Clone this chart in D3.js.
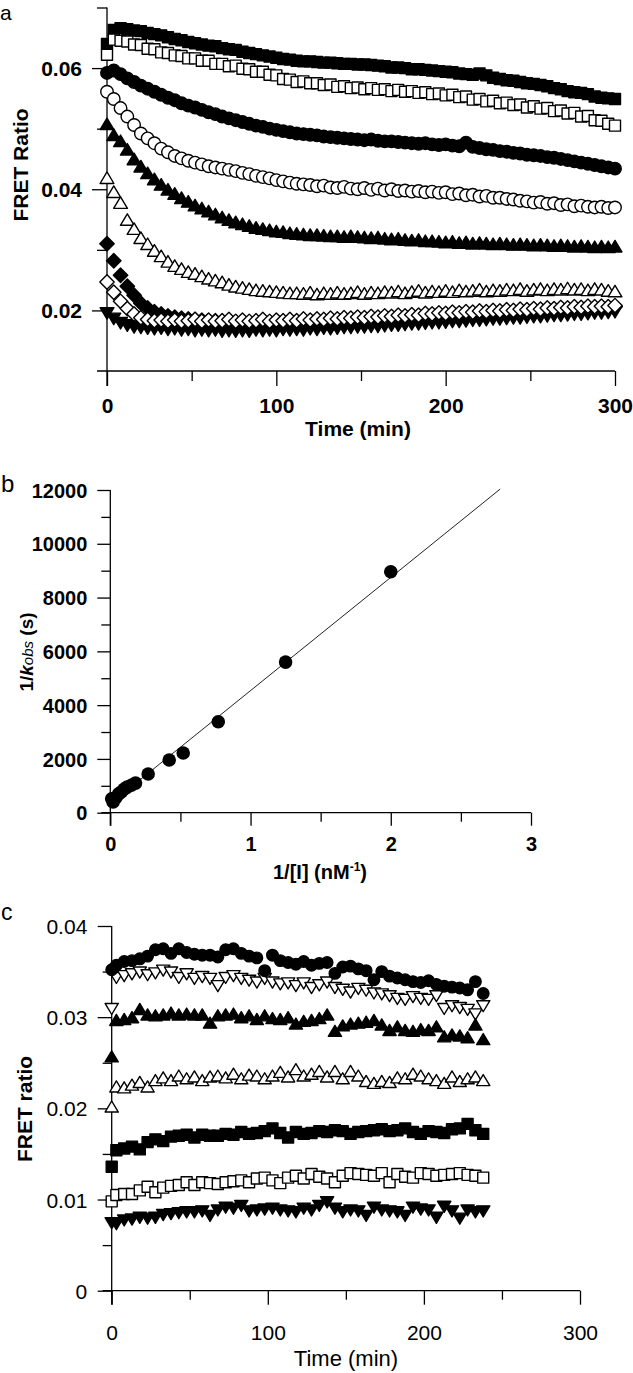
<!DOCTYPE html>
<html><head><meta charset="utf-8">
<script src="https://cdn.jsdelivr.net/npm/d3@7"></script>
<style>body{margin:0;background:#fff}svg{display:block}</style>
</head><body><svg id="chart" width="633" height="1373"></svg>
<script>
// ---------- Panel a data ----------
const aTime = [0,4,8,12,16,20,24,28,32,36,40,44,48,52,56,60,64,68,72,76,80,84,88,92,96,100,104,108,112,116,120,124,128,132,136,140,144,148,152,156,160,164,168,172,176,180,184,188,192,196,200,204,208,212,216,220,224,228,232,236,240,244,248,252,256,260,264,268,272,276,280,284,288,292,296,300];
const aFilledSquare = [.0640,.0663,.0666,.0664,.0662,.0661,.0658,.0656,.0654,.0651,.0648,.0646,.0643,.0641,.0639,.0637,.0636,.0633,.0631,.0630,.0627,.0625,.0623,.0621,.0619,.0617,.0615,.0614,.0612,.0611,.0611,.0610,.0609,.0609,.0608,.0607,.0607,.0606,.0606,.0605,.0604,.0603,.0601,.0601,.0600,.0598,.0598,.0597,.0596,.0595,.0594,.0593,.0591,.0590,.0589,.0591,.0588,.0584,.0582,.0580,.0579,.0577,.0575,.0574,.0572,.0570,.0567,.0565,.0562,.0560,.0559,.0557,.0553,.0551,.0550,.0549];
const aOpenSquare = [.0622,.0647,.0645,.0644,.0639,.0638,.0632,.0631,.0626,.0625,.0621,.0620,.0616,.0616,.0612,.0612,.0607,.0607,.0603,.0604,.0599,.0598,.0594,.0594,.0589,.0588,.0582,.0581,.0577,.0578,.0575,.0575,.0572,.0573,.0569,.0570,.0567,.0568,.0565,.0567,.0564,.0565,.0562,.0564,.0561,.0562,.0559,.0560,.0557,.0558,.0555,.0556,.0552,.0553,.0548,.0549,.0545,.0546,.0542,.0543,.0539,.0540,.0535,.0537,.0533,.0534,.0529,.0530,.0525,.0526,.0520,.0521,.0514,.0513,.0508,.0505];
const aFilledCircle = [.0592,.0596,.0590,.0583,.0577,.0571,.0566,.0561,.0556,.0551,.0547,.0542,.0538,.0535,.0531,.0527,.0524,.0520,.0517,.0514,.0511,.0508,.0505,.0503,.0500,.0498,.0496,.0494,.0492,.0491,.0490,.0489,.0487,.0486,.0485,.0484,.0483,.0482,.0481,.0482,.0480,.0479,.0479,.0478,.0477,.0476,.0475,.0476,.0474,.0473,.0474,.0472,.0471,.0477,.0470,.0468,.0466,.0465,.0463,.0462,.0460,.0459,.0457,.0456,.0455,.0453,.0452,.0450,.0448,.0446,.0444,.0442,.0440,.0438,.0436,.0434];
const aOpenCircle = [.0561,.0549,.0534,.0520,.0506,.0492,.0484,.0476,.0467,.0461,.0455,.0451,.0447,.0444,.0441,.0438,.0436,.0434,.0432,.0430,.0427,.0425,.0422,.0420,.0418,.0415,.0413,.0411,.0409,.0408,.0407,.0405,.0406,.0403,.0402,.0404,.0401,.0400,.0402,.0399,.0401,.0398,.0400,.0397,.0398,.0396,.0397,.0395,.0396,.0394,.0395,.0392,.0393,.0390,.0391,.0388,.0389,.0386,.0386,.0384,.0383,.0381,.0380,.0378,.0379,.0376,.0377,.0374,.0375,.0372,.0373,.0371,.0370,.0371,.0369,.0370];
const aFilledTriangle = [.0508,.0490,.0480,.0466,.0450,.0438,.0427,.0417,.0408,.0400,.0393,.0386,.0380,.0374,.0369,.0364,.0359,.0354,.0350,.0346,.0343,.0340,.0337,.0335,.0333,.0331,.0330,.0328,.0327,.0326,.0325,.0325,.0324,.0323,.0323,.0322,.0323,.0322,.0321,.0320,.0321,.0319,.0318,.0319,.0317,.0316,.0317,.0315,.0315,.0314,.0313,.0314,.0312,.0313,.0311,.0312,.0311,.0310,.0311,.0310,.0309,.0310,.0309,.0308,.0309,.0308,.0307,.0308,.0307,.0306,.0307,.0306,.0305,.0306,.0305,.0306];
const aOpenTriangle = [.0419,.0396,.0378,.0350,.0335,.0320,.0310,.0299,.0290,.0281,.0274,.0269,.0264,.0261,.0257,.0253,.0250,.0247,.0243,.0240,.0238,.0236,.0234,.0233,.0232,.0231,.0230,.0229,.0229,.0228,.0230,.0227,.0229,.0228,.0230,.0228,.0229,.0231,.0228,.0230,.0229,.0231,.0230,.0232,.0229,.0231,.0233,.0230,.0232,.0231,.0233,.0231,.0234,.0232,.0233,.0235,.0232,.0234,.0233,.0235,.0234,.0236,.0233,.0235,.0236,.0234,.0236,.0235,.0237,.0235,.0236,.0234,.0236,.0235,.0233,.0232];
const aFilledDiamond = [.0310,.0282,.0258,.0240,.0225,.0212,.0204,.0198,.0194,.0191,.0189,.0187,.0186,.0185,.0184,.0183,.0183,.0182,.0181,.0181,.0180,.0181,.0180,.0180,.0179,.0180,.0180,.0181,.0181,.0182,.0181,.0182,.0182,.0183,.0183,.0184,.0184,.0185,.0186,.0186,.0187,.0187,.0188,.0189,.0189,.0190,.0190,.0191,.0191,.0192,.0193,.0193,.0194,.0194,.0195,.0196,.0196,.0197,.0197,.0198,.0198,.0199,.0199,.0200,.0200,.0201,.0201,.0202,.0202,.0203,.0203,.0204,.0204,.0205,.0205,.0206];
const aOpenDiamond = [.0247,.0230,.0215,.0203,.0194,.0188,.0185,.0183,.0184,.0182,.0184,.0182,.0183,.0185,.0182,.0184,.0182,.0183,.0185,.0182,.0184,.0182,.0183,.0185,.0182,.0184,.0183,.0185,.0183,.0186,.0184,.0186,.0185,.0187,.0186,.0188,.0187,.0189,.0188,.0190,.0189,.0191,.0190,.0192,.0191,.0193,.0192,.0195,.0194,.0196,.0195,.0197,.0196,.0198,.0197,.0199,.0198,.0200,.0199,.0201,.0200,.0202,.0201,.0203,.0202,.0204,.0203,.0205,.0204,.0206,.0205,.0207,.0206,.0207,.0206,.0208];
const aFilledDownTriangle = [.0195,.0186,.0179,.0175,.0172,.0171,.0170,.0169,.0170,.0168,.0169,.0167,.0168,.0166,.0167,.0166,.0167,.0165,.0166,.0165,.0166,.0165,.0167,.0166,.0167,.0166,.0168,.0167,.0168,.0167,.0169,.0168,.0170,.0169,.0170,.0171,.0171,.0172,.0172,.0173,.0173,.0174,.0175,.0175,.0176,.0177,.0177,.0178,.0179,.0179,.0180,.0181,.0181,.0182,.0183,.0183,.0184,.0185,.0185,.0186,.0187,.0187,.0188,.0189,.0189,.0190,.0191,.0191,.0192,.0193,.0193,.0194,.0195,.0195,.0196,.0197];
const aXTicks = [0,50,100,150,200,250,300];
const aXLabels = [0,100,200,300];
const aYTicks = [0.02,0.03,0.04,0.05,0.06,0.07];
const aYLabels = [0.02,0.04,0.06];

// ---------- Panel b data ----------
const bInvI = [0.01,0.02,0.04,0.06,0.08,0.10,0.12,0.15,0.18,0.27,0.42,0.52,0.77,1.25,2.0];
const bInvK = [520,400,560,700,780,880,950,1020,1100,1440,1960,2220,3380,5600,8960];
const bFitIntercept = 330;
const bFitSlope = 4210;
const bFitRange = [0, 2.78];
const bXTicks = [0,0.5,1,1.5,2,2.5,3];
const bXLabels = [0,1,2,3];
const bYTicks = [0,1000,2000,3000,4000,5000,6000,7000,8000,9000,10000,11000,12000];
const bYLabels = [0,2000,4000,6000,8000,10000,12000];

// ---------- Panel c data ----------
const cTime = [0,3,8,13,18,23,28,33,38,43,48,53,58,63,68,73,78,83,88,93,98,103,108,113,118,123,128,133,138,143,148,153,158,163,168,173,178,183,188,193,198,203,208,213,218,223,228,233,238];
const cFilledCircle = [.0352,.0357,.0361,.0362,.0364,.0367,.0374,.0375,.0370,.0375,.0371,.0369,.0368,.0368,.0366,.0374,.0375,.0370,.0367,.0365,.0351,.0368,.0362,.0360,.0358,.0361,.0357,.0359,.0360,.0348,.0355,.0356,.0353,.0351,.0341,.0350,.0345,.0343,.0341,.0339,.0338,.0340,.0336,.0334,.0333,.0332,.0330,.0339,.0326];
const cOpenDownTriangle = [.0309,.0343,.0345,.0347,.0349,.0346,.0348,.0351,.0349,.0343,.0347,.0342,.0344,.0342,.0334,.0343,.0345,.0342,.0340,.0338,.0342,.0338,.0336,.0337,.0334,.0337,.0332,.0335,.0338,.0332,.0330,.0327,.0331,.0329,.0326,.0325,.0323,.0320,.0319,.0322,.0320,.0319,.0323,.0309,.0312,.0310,.0308,.0303,.0312];
const cFilledTriangle = [.0257,.0297,.0298,.0300,.0309,.0303,.0302,.0303,.0305,.0303,.0304,.0303,.0303,.0294,.0302,.0303,.0304,.0300,.0302,.0298,.0302,.0299,.0298,.0300,.0293,.0296,.0297,.0299,.0303,.0285,.0291,.0293,.0294,.0295,.0297,.0292,.0286,.0290,.0286,.0285,.0287,.0286,.0290,.0279,.0281,.0280,.0278,.0292,.0276];
const cOpenTriangle = [.0202,.0224,.0223,.0226,.0229,.0224,.0231,.0234,.0231,.0236,.0233,.0235,.0231,.0235,.0236,.0234,.0238,.0233,.0237,.0236,.0233,.0236,.0240,.0235,.0243,.0236,.0238,.0241,.0235,.0241,.0233,.0241,.0236,.0230,.0228,.0230,.0229,.0234,.0233,.0238,.0236,.0233,.0231,.0228,.0235,.0230,.0233,.0235,.0231];
const cFilledSquare = [.0136,.0154,.0156,.0158,.0155,.0163,.0166,.0164,.0169,.0170,.0171,.0168,.0171,.0170,.0170,.0172,.0171,.0174,.0172,.0173,.0175,.0178,.0173,.0168,.0174,.0172,.0173,.0175,.0174,.0176,.0175,.0172,.0174,.0175,.0176,.0177,.0175,.0176,.0178,.0174,.0172,.0175,.0174,.0173,.0177,.0178,.0183,.0176,.0172];
const cOpenSquare = [.0098,.0105,.0106,.0106,.0110,.0114,.0108,.0113,.0115,.0116,.0119,.0116,.0119,.0118,.0117,.0119,.0120,.0121,.0119,.0123,.0124,.0121,.0118,.0124,.0126,.0123,.0128,.0125,.0123,.0119,.0126,.0129,.0128,.0127,.0126,.0129,.0119,.0128,.0125,.0124,.0129,.0128,.0126,.0127,.0128,.0129,.0127,.0126,.0124];
const cFilledDownTriangle = [.0074,.0073,.0077,.0078,.0080,.0079,.0080,.0083,.0084,.0085,.0086,.0086,.0087,.0082,.0088,.0091,.0090,.0093,.0087,.0088,.0089,.0090,.0088,.0087,.0086,.0090,.0088,.0093,.0097,.0090,.0086,.0088,.0087,.0082,.0091,.0088,.0087,.0086,.0082,.0091,.0089,.0088,.0080,.0092,.0087,.0079,.0088,.0086,.0087];
const cXTicks = [0,50,100,150,200,250,300];
const cXLabels = [0,100,200,300];
const cYTicks = [0,0.005,0.01,0.015,0.02,0.025,0.03,0.035,0.04];
const cYLabels = [0,0.01,0.02,0.03,0.04];

// ---------- drawing ----------
const FONT = '"Liberation Sans", Arial, Helvetica, sans-serif';
const svg = d3.select("#chart");

function shapePath(shape, s) {
  const h = s / 2;
  if (shape === "square") return `M${-h},${-h}h${s}v${s}h${-s}Z`;
  if (shape === "circle") return d3.symbol(d3.symbolCircle, Math.PI * h * h)();
  if (shape === "diamond") { const d = s * 0.6; return `M0,${-d}L${d},0L0,${d}L${-d},0Z`; }
  const w = s * 1.15, t = s * 0.48;
  if (shape === "up") return `M0,${-t}L${w/2},${t}L${-w/2},${t}Z`;
  if (shape === "down") return `M0,${t}L${w/2},${-t}L${-w/2},${-t}Z`;
}
const has = (arr, d) => arr.some(v => Math.abs(v - d) < 1e-9);

function drawAxes(o) {
  const g = svg.append("g").attr("font-family", FONT);
  const gy = g.append("g").attr("transform", `translate(${o.x.range()[0]},0)`)
    .call(d3.axisLeft(o.y).tickValues(o.yTicks).tickSizeOuter(0)
      .tickFormat(d => has(o.yLabels, d) ? o.yFmt(d) : ""));
  gy.select(".domain").remove();
  gy.selectAll(".tick line").attr("x2", d => has(o.yLabels, d) ? -o.major : -o.minor)
    .attr("stroke", "#000").attr("stroke-width", 1.3);
  gy.selectAll(".tick text").attr("x", o.yLabelOff).attr("dy", "0.36em")
    .attr("font-size", o.fs).attr("font-weight", o.weight).attr("font-family", FONT).attr("fill", "#000");
  const y0 = o.y.range()[0];
  const gx = g.append("g").attr("transform", `translate(0,${y0})`)
    .call(d3.axisBottom(o.x).tickValues(o.xTicks).tickSizeOuter(0)
      .tickFormat(d => has(o.xLabels, d) ? String(d) : ""));
  gx.select(".domain").remove();
  gx.selectAll(".tick line").attr("y2", d => has(o.xLabels, d) ? o.major : o.minor)
    .attr("stroke", "#000").attr("stroke-width", 1.3);
  gx.selectAll(".tick text").attr("y", o.xLabelOff).attr("dy", null)
    .attr("font-size", o.fs).attr("font-weight", o.weight).attr("font-family", FONT).attr("fill", "#000");
  const x0 = o.x.range()[0], x1 = o.x.range()[1];
  g.append("line").attr("x1", x0 - o.minor).attr("x2", x1).attr("y1", y0).attr("y2", y0)
    .attr("stroke", "#000").attr("stroke-width", 1.3);
  g.append("line").attr("x1", x0).attr("x2", x0).attr("y1", o.y.range()[1]).attr("y2", y0 + o.major)
    .attr("stroke", "#000").attr("stroke-width", 1.3);
}

function drawSeries(x, y, times, series) {
  series.forEach(s => {
    svg.append("g").selectAll("path").data(times.map((t, i) => [t, s.values[i]])).join("path")
      .attr("transform", d => `translate(${x(d[0])},${y(d[1])})`)
      .attr("d", shapePath(s.shape, s.size))
      .attr("fill", s.filled ? "#000" : "#fff")
      .attr("stroke", "#000").attr("stroke-width", 1.4).attr("stroke-linejoin", "round");
  });
}

// ===== Panel a =====
const ax = d3.scaleLinear().domain([0, 300]).range([107, 615]);
const ay = d3.scaleLinear().domain([0.01, 0.07]).range([371, 7.5]);
drawAxes({x: ax, y: ay, xTicks: aXTicks, xLabels: aXLabels, yTicks: aYTicks, yLabels: aYLabels,
  yFmt: d3.format(".2f"), major: 15, minor: 10, yLabelOff: -25, xLabelOff: 42, fs: 21, weight: "bold"});
drawSeries(ax, ay, aTime, [
  {values: aFilledDownTriangle, shape: "down", filled: true, size: 12},
  {values: aFilledDiamond, shape: "diamond", filled: true, size: 12},
  {values: aOpenDiamond, shape: "diamond", filled: false, size: 12},
  {values: aOpenTriangle, shape: "up", filled: false, size: 12},
  {values: aFilledTriangle, shape: "up", filled: true, size: 12},
  {values: aOpenCircle, shape: "circle", filled: false, size: 12.5},
  {values: aFilledCircle, shape: "circle", filled: true, size: 12.5},
  {values: aFilledSquare, shape: "square", filled: true, size: 11},
  {values: aOpenSquare, shape: "square", filled: false, size: 11}
]);
svg.append("text").attr("x", 0).attr("y", 20).attr("font-family", FONT).attr("font-size", 21).text("a");
svg.append("text").attr("transform", "translate(28,165) rotate(-90)").attr("text-anchor", "middle")
  .attr("font-family", FONT).attr("font-size", 21).attr("font-weight", "bold").text("FRET Ratio");
svg.append("text").attr("x", 358).attr("y", 436).attr("text-anchor", "middle")
  .attr("font-family", FONT).attr("font-size", 21).attr("font-weight", "bold").text("Time (min)");

// ===== Panel b =====
const bx = d3.scaleLinear().domain([0, 3]).range([110.3, 531]);
const by = d3.scaleLinear().domain([0, 12000]).range([812.7, 490]);
drawAxes({x: bx, y: by, xTicks: bXTicks, xLabels: bXLabels, yTicks: bYTicks, yLabels: bYLabels,
  yFmt: d3.format("d"), major: 13, minor: 9, yLabelOff: -23, xLabelOff: 38.5, fs: 20, weight: "bold"});
svg.append("path")
  .datum(bFitRange.map(v => [v, bFitIntercept + bFitSlope * v]))
  .attr("d", d3.line().x(d => bx(d[0])).y(d => by(d[1])))
  .attr("stroke", "#222").attr("stroke-width", 1).attr("fill", "none");
svg.append("g").selectAll("circle").data(bInvI.map((v, i) => [v, bInvK[i]])).join("circle")
  .attr("cx", d => bx(d[0])).attr("cy", d => by(d[1])).attr("r", 6.8).attr("fill", "#000");
svg.append("text").attr("x", 1).attr("y", 492).attr("font-family", FONT).attr("font-size", 24).text("b");
const bt = svg.append("text").attr("transform", "translate(33,652) rotate(-90)").attr("text-anchor", "middle")
  .attr("font-family", FONT).attr("font-size", 19).attr("font-weight", "bold");
bt.append("tspan").text("1/");
bt.append("tspan").attr("font-style", "italic").text("k");
bt.append("tspan").attr("font-style", "italic").attr("font-weight", "normal").attr("font-size", 15).text("obs");
bt.append("tspan").text(" (s)");
const bxT = svg.append("text").attr("x", 320).attr("y", 879).attr("text-anchor", "middle")
  .attr("font-family", FONT).attr("font-size", 20).attr("font-weight", "bold");
bxT.append("tspan").text("1/[I] (nM");
bxT.append("tspan").attr("font-size", 12).attr("dy", -8).text("-1");
bxT.append("tspan").attr("dy", 8).text(")");

// ===== Panel c =====
const cx = d3.scaleLinear().domain([0, 300]).range([111.7, 580]);
const cy = d3.scaleLinear().domain([0, 0.04]).range([1290.7, 926]);
drawAxes({x: cx, y: cy, xTicks: cXTicks, xLabels: cXLabels, yTicks: cYTicks, yLabels: cYLabels,
  yFmt: d => d === 0 ? "0" : d3.format(".2f")(d), major: 14, minor: 9, yLabelOff: -24.4, xLabelOff: 49.3, fs: 21, weight: "normal"});
drawSeries(cx, cy, cTime, [
  {values: cFilledDownTriangle, shape: "down", filled: true, size: 11.5},
  {values: cOpenSquare, shape: "square", filled: false, size: 11},
  {values: cFilledSquare, shape: "square", filled: true, size: 11},
  {values: cOpenTriangle, shape: "up", filled: false, size: 11.5},
  {values: cFilledTriangle, shape: "up", filled: true, size: 11.5},
  {values: cOpenDownTriangle, shape: "down", filled: false, size: 11.5},
  {values: cFilledCircle, shape: "circle", filled: true, size: 11.5}
]);
svg.append("text").attr("x", 1).attr("y", 920).attr("font-family", FONT).attr("font-size", 23).text("c");
svg.append("text").attr("transform", "translate(32,1109) rotate(-90)").attr("text-anchor", "middle")
  .attr("font-family", FONT).attr("font-size", 21).attr("font-weight", "bold").text("FRET ratio");
svg.append("text").attr("x", 346).attr("y", 1366).attr("text-anchor", "middle")
  .attr("font-family", FONT).attr("font-size", 22).text("Time (min)");
</script>
</body></html>
